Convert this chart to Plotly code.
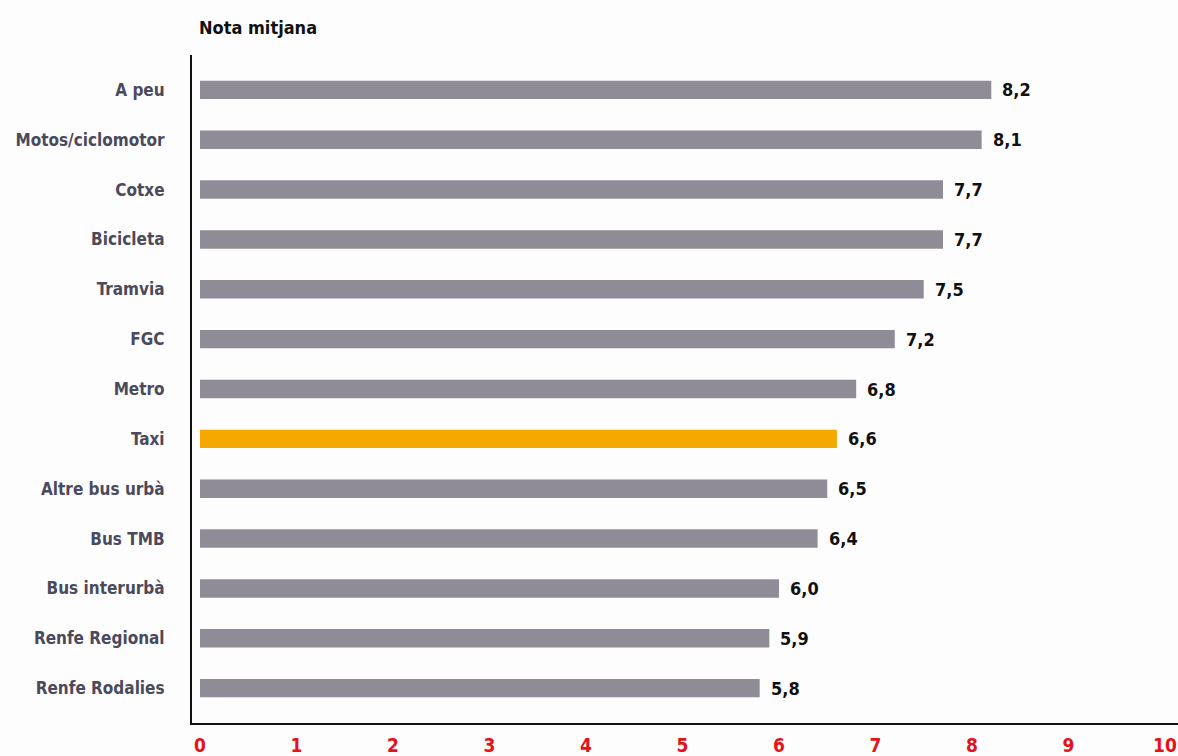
import plotly.graph_objects as go

categories = ["A peu", "Motos/ciclomotor", "Cotxe", "Bicicleta", "Tramvia", "FGC", "Metro",
              "Taxi", "Altre bus urbà", "Bus TMB", "Bus interurbà", "Renfe Regional", "Renfe Rodalies"]
values = [8.2, 8.1, 7.7, 7.7, 7.5, 7.2, 6.8, 6.6, 6.5, 6.4, 6.0, 5.9, 5.8]
highlight = "Taxi"
x_ticks = list(range(0, 11))

labels = [f"{v:.1f}".replace(".", ",") for v in values]
colors = ["#f5a800" if c == highlight else "#8f8c98" for c in categories]

FONT = "DejaVu Sans Condensed, Liberation Sans Narrow, sans-serif"

fig = go.Figure(go.Bar(
    x=values, y=categories, orientation="h",
    marker=dict(color=colors, line=dict(width=0)),
    width=0.37,
    hoverinfo="x+y",
))

annotations = [dict(text="Nota mitjana", xref="paper", yref="paper",
                    x=0.005, y=1.0, yshift=28, xanchor="left", yanchor="middle",
                    showarrow=False, font=dict(family=FONT, size=18, color="#111111", weight="bold"))]
for c, v, t in zip(categories, values, labels):
    annotations.append(dict(x=v, y=c, xref="x", yref="y", text=t, showarrow=False,
                            xanchor="left", yanchor="middle", xshift=9,
                            font=dict(family=FONT, size=18, color="#111111", weight="bold")))

fig.update_layout(
    width=1178, height=756,
    margin=dict(l=192, r=0, t=55, b=31),
    paper_bgcolor="#fdfdfd", plot_bgcolor="#fdfdfd",
    showlegend=False,
    font=dict(family=FONT),
    annotations=annotations,
)
fig.update_xaxes(range=[-0.083, 10.135], tickvals=x_ticks, ticktext=[str(t) for t in x_ticks],
                 showgrid=False, zeroline=False, showline=True, linecolor="#111111", linewidth=2,
                 ticks="", tickfont=dict(family=FONT, size=19, color="#e3131b", weight="bold"),
                 ticklabelstandoff=4)
fig.update_yaxes(autorange=False, range=[12.7, -0.7], categoryorder="array", categoryarray=categories,
                 showgrid=False, zeroline=False, showline=True, linecolor="#111111", linewidth=2,
                 ticks="", tickfont=dict(family=FONT, size=17, color="#4a4a5c", weight="bold"),
                 ticklabelstandoff=22)

fig.write_html("out.html", config={"displayModeBar": False},
               post_script="document.body.style.margin='0';document.body.style.overflow='hidden';")
